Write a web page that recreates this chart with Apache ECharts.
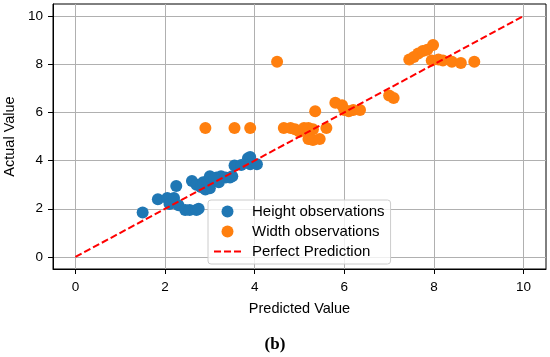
<!DOCTYPE html>
<html>
<head>
<meta charset="utf-8">
<script src="https://cdn.jsdelivr.net/npm/echarts@6/dist/echarts.min.js"></script>
<style>html,body{margin:0;padding:0;background:#fff}#c{width:550px;height:357px}</style>
</head>
<body>
<div id="c"></div>
<script>
var heightPredicted = [1.5, 1.84, 2.05, 2.1, 2.2, 2.25, 2.3, 2.45, 2.55, 2.7, 2.75, 2.6, 2.7, 2.8, 2.85, 2.9, 3.0, 2.95, 3.05, 3.15, 3.25, 3.35, 3.45, 3.5, 3.55, 3.7, 3.85, 3.9, 3.9, 4.05, 3.0, 3.2, 3.1];
var heightActual    = [1.85, 2.4, 2.45, 2.2, 2.45, 2.95, 2.15, 1.95, 1.95, 1.95, 2.0, 3.15, 3.0, 2.9, 3.1, 2.8, 2.85, 3.15, 3.2, 3.3, 3.35, 3.3, 3.3, 3.35, 3.8, 3.82, 4.1, 4.15, 3.85, 3.85, 3.35, 3.1, 3.25];
var widthPredicted  = [2.9, 3.55, 3.9, 4.5, 4.65, 4.8, 4.9, 5.0, 5.1, 5.2, 5.3, 5.2, 5.3, 5.45, 5.6, 5.35, 5.8, 5.95, 6.0, 6.1, 6.2, 6.35, 7.0, 7.1, 7.45, 7.55, 7.65, 7.75, 7.85, 7.98, 7.95, 8.1, 8.2, 8.4, 8.6, 8.9];
var widthActual     = [5.35, 5.35, 5.35, 8.1, 5.35, 5.35, 5.3, 5.2, 5.35, 5.35, 5.3, 4.9, 4.85, 4.9, 5.35, 6.05, 6.4, 6.3, 6.1, 6.05, 6.1, 6.1, 6.7, 6.6, 8.2, 8.3, 8.45, 8.55, 8.6, 8.8, 8.15, 8.2, 8.15, 8.1, 8.05, 8.1];
var perfectX = [0, 10];
var perfectY = [0, 10];
var tickValues = [0, 2, 4, 6, 8, 10];
var seriesNames = ['Height observations', 'Width observations', 'Perfect Prediction'];

function pairs(xs, ys) { return xs.map(function (x, i) { return [x, ys[i]]; }); }

var font = 'Liberation Sans, Arial, sans-serif';
function axis(name, gap, margin) {
  return {
    type: 'value', min: -0.5, max: 10.5,
    name: name, nameLocation: 'middle', nameGap: gap,
    nameTextStyle: { fontFamily: font, fontSize: 14.5, color: '#000' },
    axisLine: { show: true, onZero: false, lineStyle: { color: '#000', width: 1 } },
    axisTick: { show: true, length: 5, customValues: tickValues, lineStyle: { color: '#000' } },
    axisLabel: { customValues: tickValues, fontFamily: font, fontSize: 13.5, color: '#000', margin: margin },
    splitLine: { show: true, lineStyle: { color: '#b0b0b0', width: 1 } }
  };
}

var chart = echarts.init(document.getElementById('c'), null, { renderer: 'canvas' });
chart.setOption({
  animation: false,
  title: {
    text: '(b)', left: 'center', top: 336, padding: 0,
    textStyle: { fontFamily: 'Liberation Serif, Times New Roman, serif', fontWeight: 'bold', fontSize: 17, color: '#000' }
  },
  grid: { left: 53, right: 4, top: 4, bottom: 88, outerBoundsMode: 'none', containLabel: false, show: true, borderColor: '#000', borderWidth: 1, backgroundColor: 'transparent' },
  xAxis: axis('Predicted Value', 32, 11),
  yAxis: axis('Actual Value', 33, 10),
  legend: {
    orient: 'vertical', left: 208, top: 200,
    padding: [4, 6, 5, 5], itemGap: 5, itemWidth: 27, itemHeight: 12,
    backgroundColor: 'rgba(255,255,255,0.8)', borderColor: '#cccccc', borderWidth: 1, borderRadius: 3,
    textStyle: { fontFamily: font, fontSize: 15, color: '#000', lineHeight: 14, padding: [0, 0, 0, 6] },
    data: [
      { name: seriesNames[0], icon: 'circle' },
      { name: seriesNames[1], icon: 'circle' },
      { name: seriesNames[2], itemStyle: { opacity: 0, color: 'rgba(0,0,0,0)', borderWidth: 0 } }
    ]
  },
  series: [
    {
      name: seriesNames[0], type: 'scatter', symbol: 'circle', symbolSize: 12,
      itemStyle: { color: '#1f77b4', opacity: 1 }, z: 2,
      data: pairs(heightPredicted, heightActual)
    },
    {
      name: seriesNames[1], type: 'scatter', symbol: 'circle', symbolSize: 12,
      itemStyle: { color: '#ff7f0e', opacity: 1 }, z: 2,
      data: pairs(widthPredicted, widthActual)
    },
    {
      name: seriesNames[2], type: 'line', showSymbol: false, symbol: 'none', z: 3,
      lineStyle: { color: '#ff0000', width: 2, type: [7, 3] },
      itemStyle: { color: '#ff0000' },
      data: pairs(perfectX, perfectY)
    }
  ]
});
</script>
</body>
</html>
